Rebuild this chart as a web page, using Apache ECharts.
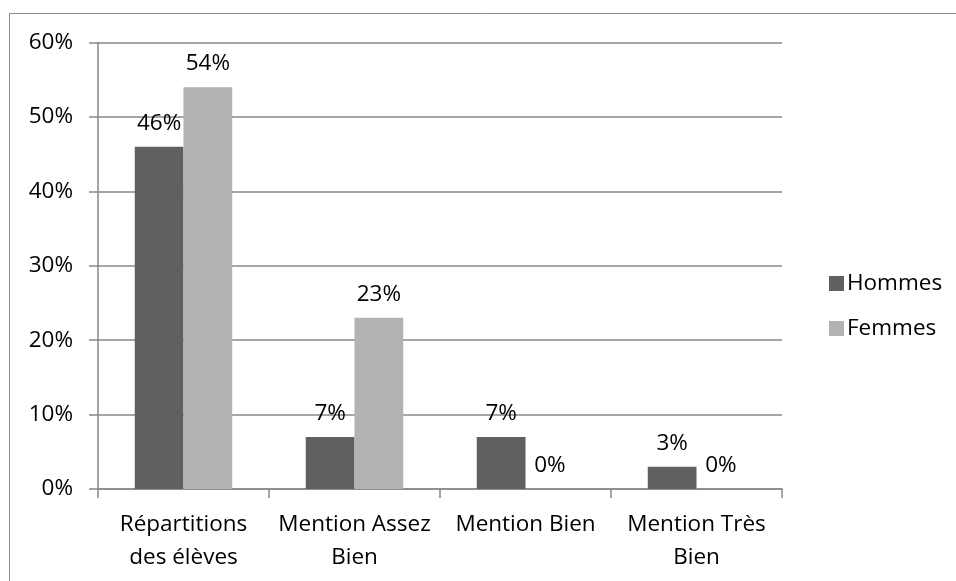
<!DOCTYPE html>
<html>
<head>
<meta charset="utf-8">
<script src="https://cdn.jsdelivr.net/npm/echarts@6/dist/echarts.min.js"></script>
<style>html,body{margin:0;padding:0;background:#fff}#c{width:956px;height:581px}</style>
</head>
<body>
<div id="c"></div>
<script>
const categories = ['Répartitions\ndes élèves', 'Mention Assez\nBien', 'Mention Bien', 'Mention Très\nBien'];
const hommes = [46, 7, 7, 3];
const femmes = [54, 23, 0, 0];
const yTicks = {min: 0, max: 60, interval: 10};

const FONT = '"Open Sans", sans-serif';
const FS = 22.5;
const chart = echarts.init(document.getElementById('c'), null, {renderer: 'canvas'});
const lbl = {show: true, position: 'top', distance: 12, formatter: '{c}%', color: '#000', fontSize: FS, fontFamily: FONT};
chart.setOption({
  animation: false,
  backgroundColor: '#fff',
  graphic: [{
    type: 'rect', shape: {x: 9.5, y: 13.5, width: 1200, height: 1200},
    style: {fill: 'none', stroke: '#8c8c8c', lineWidth: 1}, silent: true
  }],
  grid: {left: 98, right: 174, top: 42.5, bottom: 92, containLabel: false},
  legend: {
    orient: 'vertical', left: 824, top: 267,
    itemWidth: 15, itemHeight: 15, itemGap: 22,
    icon: 'rect',
    textStyle: {fontSize: FS, fontFamily: FONT, color: '#000', padding: [0, 0, 0, -2]},
    data: ['Hommes', 'Femmes']
  },
  xAxis: {
    type: 'category', data: categories,
    axisLine: {lineStyle: {color: '#888', width: 1.5}},
    axisTick: {show: true, length: 9, lineStyle: {color: '#888', width: 1.5}},
    axisLabel: {fontSize: FS, fontFamily: FONT, color: '#000', margin: 19, lineHeight: 33, interval: 0}
  },
  yAxis: {
    type: 'value', min: yTicks.min, max: yTicks.max, interval: yTicks.interval,
    axisLine: {show: true, lineStyle: {color: '#888', width: 1.5}},
    axisTick: {show: true, length: 9, lineStyle: {color: '#888', width: 1.5}},
    splitLine: {lineStyle: {color: '#888', width: 1.5}},
    axisLabel: {formatter: '{value}%', fontSize: FS, fontFamily: FONT, color: '#000', margin: 25}
  },
  series: [
    {name: 'Hommes', type: 'bar', data: hommes, itemStyle: {color: '#606060'}, barGap: '0%', barCategoryGap: '43%', label: lbl},
    {name: 'Femmes', type: 'bar', data: femmes, itemStyle: {color: '#b2b2b2'}, label: lbl}
  ]
});
</script>
</body>
</html>
